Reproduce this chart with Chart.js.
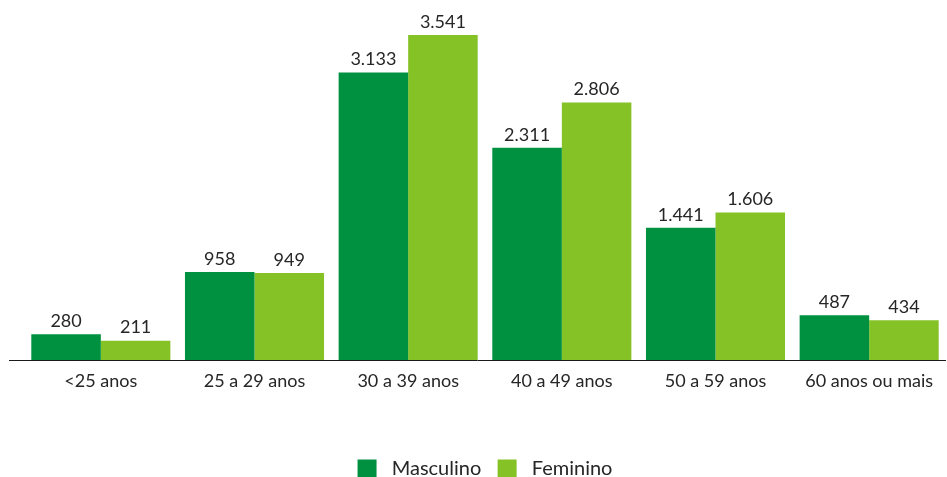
<!DOCTYPE html>
<html>
<head>
<meta charset="utf-8">
<script src="https://cdn.jsdelivr.net/npm/chart.js@4.4.1/dist/chart.umd.min.js"></script>
<style>
  html, body { margin: 0; padding: 0; background: #fff; }
  #wrap { width: 947px; height: 477px; }
</style>
</head>
<body>
<div id="wrap"><canvas id="chart-bars"></canvas></div>
<script>
// data
const faixas = ['<25 anos', '25 a 29 anos', '30 a 39 anos', '40 a 49 anos', '50 a 59 anos', '60 anos ou mais'];
const masculino = [280, 958, 3133, 2311, 1441, 487];
const feminino = [211, 949, 3541, 2806, 1606, 434];

const fmt = v => v.toLocaleString('pt-BR');
const FONT = 'Lato, "Open Sans", sans-serif';

// value labels above bars
const valueLabels = {
    id: 'valueLabels',
    afterDatasetsDraw(chart) {
        const ctx = chart.ctx;
        ctx.save();
        ctx.font = '18px ' + FONT;
        ctx.fillStyle = '#262626';
        ctx.textAlign = 'center';
        ctx.textBaseline = 'bottom';
        chart.data.datasets.forEach((ds, i) => {
            chart.getDatasetMeta(i).data.forEach((bar, j) => {
                ctx.fillText(fmt(ds.data[j]), bar.x, bar.y - 4);
            });
        });
        ctx.restore();
    }
};

// baseline running to the left edge
const baseLine = {
    id: 'baseLine',
    afterDatasetsDraw(chart) {
        const ctx = chart.ctx;
        const y = Math.round(chart.scales.y.getPixelForValue(0)) + 0.5;
        ctx.save();
        ctx.strokeStyle = '#1a1a1a';
        ctx.lineWidth = 1;
        ctx.beginPath();
        ctx.moveTo(9, y);
        ctx.lineTo(chart.chartArea.right, y);
        ctx.stroke();
        ctx.restore();
    }
};

const data = {
    labels: faixas,
    datasets: [{
        label: 'Masculino',
        data: masculino,
        backgroundColor: '#009140',
        categoryPercentage: 0.905,
        barPercentage: 1
    },
    {
        label: 'Feminino',
        data: feminino,
        backgroundColor: '#85c226',
        categoryPercentage: 0.905,
        barPercentage: 1
    }]
};

const config = {
    type: 'bar',
    data,
    options: {
        responsive: true,
        maintainAspectRatio: false,
        animation: false,
        layout: { padding: { left: 24, right: 1, top: 2, bottom: -12 } },
        plugins: {
            tooltip: { enabled: false },
            legend: {
                position: 'bottom',
                labels: {
                    boxWidth: 19,
                    boxHeight: 19,
                    padding: 1,
                    color: '#262626',
                    font: { family: FONT, size: 20 },
                    generateLabels(chart) {
                        const items = Chart.defaults.plugins.legend.labels.generateLabels(chart);
                        items.forEach((it, i) => {
                            it.text = ' ' + it.text + (i === 0 ? '   ' : '');
                        });
                        return items;
                    }
                }
            }
        },
        scales: {
            x: {
                grid: { display: false, drawTicks: false },
                border: { display: false },
                ticks: {
                    color: '#262626',
                    padding: 10,
                    font: { family: FONT, size: 18 }
                },
                afterFit(scale) { scale.height = 98; }
            },
            y: {
                display: false,
                min: 0,
                max: 3900
            }
        }
    },
    plugins: [valueLabels, baseLine]
};

const myChart = new Chart(document.getElementById('chart-bars'), config);
</script>
</body>
</html>
